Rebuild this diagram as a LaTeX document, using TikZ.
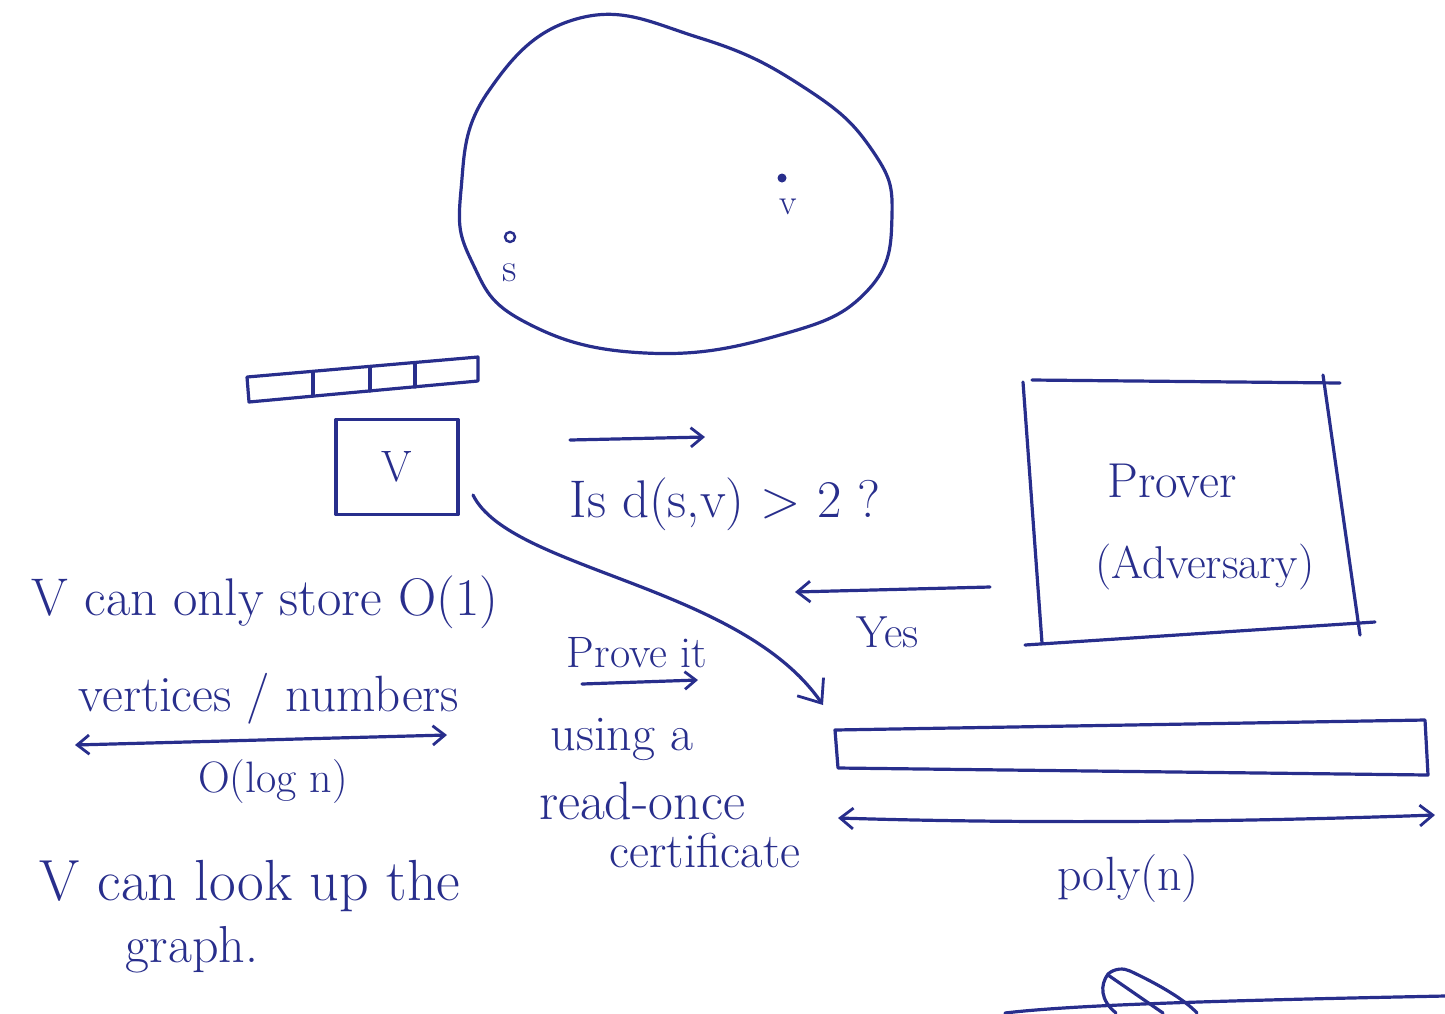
\documentclass[tikz,border=0pt]{standalone}
\usepackage{fontspec}
\usetikzlibrary{arrows.meta,calc}
\definecolor{ink}{RGB}{40,46,140}
\begin{document}
\begin{tikzpicture}[x=1pt,y=-1pt,
  pen/.style={draw=ink, line width=3.2pt, line cap=round, line join=round},
  barb/.style={-{Straight Barb[length=#1, width=1.6*#1, line width=2.8pt]}},
  barb/.default=12pt,
  dbarb/.style={{Straight Barb[length=#1, width=1.6*#1, line width=2.8pt]}-{Straight Barb[length=#1, width=1.6*#1, line width=2.8pt]}},
  dbarb/.default=12pt,
  hand/.style={text=ink, inner sep=0pt, anchor=base, font=\fontsize{#1}{#1}\selectfont},
  hand/.default=50]
\useasboundingbox (0,0) rectangle (1445,1013);

% the graph
\draw[pen] plot[smooth cycle, tension=0.75] coordinates {
  (580,18) (700,38) (805,88) (872,150) (892,215) (868,290) (780,335)
  (645,353) (525,322) (472,262) (461,190) (488,92)};
\node[circle, draw=ink, line width=2.4pt, minimum size=10pt, inner sep=0pt] (s) at (510,237) {};
\node[hand=40] (slabel) at (510,281) {s};
\node[circle, fill=ink, minimum size=9pt, inner sep=0pt] (v) at (782,178) {};
\node[hand=36] (vlabel) at (788,214) {v};

% work tape of the verifier
\draw[pen] (247,377) -- (478,357) -- (478,381) -- (249,402) -- cycle;
\draw[pen] (313,372) -- (313,396);
\draw[pen] (370,367) -- (370,391);
\draw[pen] (415,363) -- (415,387);

% verifier
\node[pen, minimum width=122pt, minimum height=95pt, hand=44, anchor=center] (V) at (397,467) {V};

% prover
\draw[pen] (1032,380) -- (1340,383);
\draw[pen] (1023,382) -- (1042,643);
\draw[pen] (1323,375) -- (1360,635);
\draw[pen] (1025,645) -- (1375,622);
\node[hand=49] (prover) at (1172,497) {Prover};
\node[hand=46] (adv) at (1205,578) {(Adversary)};

% certificate tape
\draw[pen] (835,730) -- (1425,720) -- (1428,775) -- (838,768) -- cycle;

% free ends of the connectors
\coordinate (q1) at (570,440);
\coordinate (q2) at (705,437);
\coordinate (y1) at (990,587);
\coordinate (y2) at (795,592);
\coordinate (c0) at (473,495);
\coordinate (c1) at (823,705);
\coordinate (p1) at (582,684);
\coordinate (p2) at (698,680);
\coordinate (l1) at (75,745);
\coordinate (l2) at (447,735);
\coordinate (t1) at (838,818);
\coordinate (t2) at (1435,815);

% question and answer
\draw[pen, barb=12pt] (q1) -- (q2);
\node[hand=53] (question) at (725,517) {Is d(s,v) > 2 ?};
\draw[pen, barb=13pt] (y1) -- (y2);
\node[hand=45] (yes) at (888,647) {Yes};

% verifier reads the certificate
\draw[pen, barb=20pt] (c0) .. controls (510,570) and (740,585) .. (c1);
\node[hand=44] (prove) at (637,667) {Prove it};
\draw[pen, barb=11pt] (p1) -- (p2);
\node[hand=50] (using) at (622,750) {using a};
\node[hand=54] (readonce) at (642,819) {read-once};
\node[hand=49] (cert) at (705,867) {certificate};

% length of the certificate
\draw[pen, dbarb=13pt] (t1) .. controls (1030,824) and (1240,822) .. (t2);
\node[hand=48] (poly) at (1128,890) {poly(n)};

% space bound of the verifier
\node[hand=53] (store) at (265,615) {V can only store O(1)};
\node[hand=51] (vert) at (269,711) {vertices / numbers};
\draw[pen, dbarb=12pt] (l1) -- (l2);
\node[hand=44] (logn) at (273,792) {O(log n)};
\node[hand=58] (lookup) at (250,900) {V can look up the};
\node[hand=52] (graph) at (192,962) {graph.};

% partial sketch at the bottom edge
\draw[pen] (1005,1013) .. controls (1080,1004) and (1250,1000) .. (1445,996);
\draw[pen] (1116,1013) .. controls (1100,1000) and (1100,985) .. (1108,974)
  .. controls (1115,968) and (1124,968) .. (1130,971)
  .. controls (1160,985) and (1185,1000) .. (1197,1013);
\draw[pen] (1108,975) -- (1163,1013);
\end{tikzpicture}
\end{document}
